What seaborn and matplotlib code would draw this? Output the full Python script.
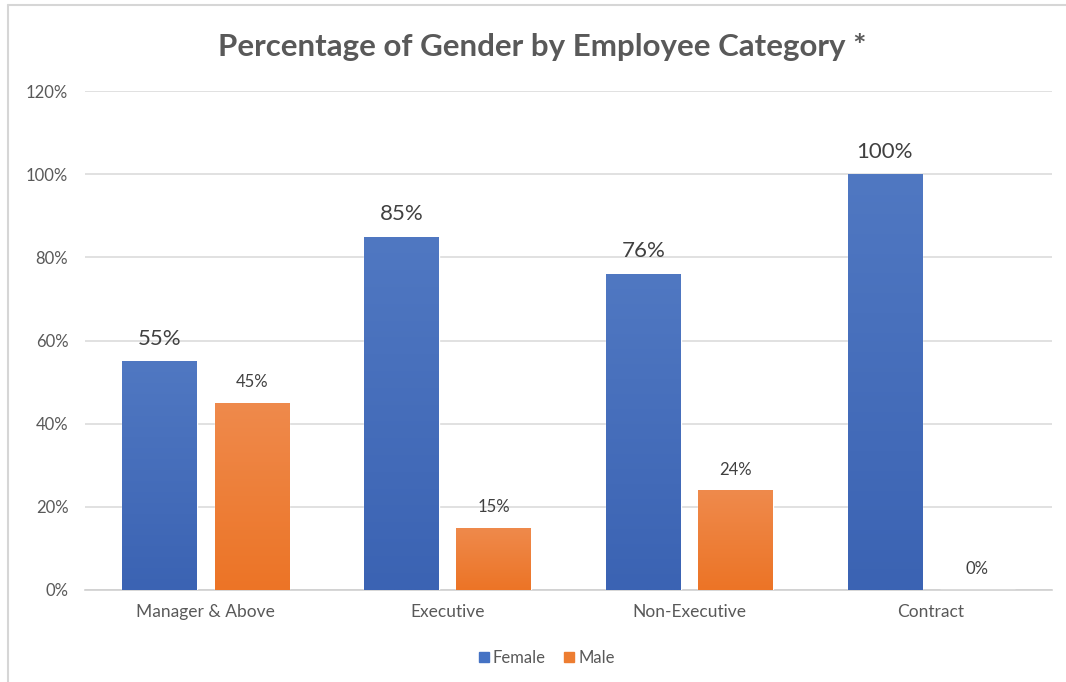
import numpy as np
import pandas as pd
import matplotlib
matplotlib.use("Agg")
import matplotlib.pyplot as plt
from matplotlib.lines import Line2D
from matplotlib.colors import LinearSegmentedColormap
import seaborn as sns

categories = ["Manager & Above", "Executive", "Non-Executive", "Contract"]
genders = ["Female", "Male"]
female_pct = [55, 85, 76, 100]
male_pct = [45, 15, 24, 0]
y_ticks = [0, 20, 40, 60, 80, 100, 120]

df = pd.DataFrame({
    "Category": categories * 2,
    "Gender": ["Female"] * len(categories) + ["Male"] * len(categories),
    "Percent": female_pct + male_pct,
})

base_colors = {"Female": "#4472C4", "Male": "#ED7D31"}
# light-at-top to darker-at-bottom fills, per series
gradients = {
    "Female": ("#5078c2", "#3b63b3"),
    "Male": ("#ef8a4c", "#ec7426"),
}

sns.set_theme(style="white")
plt.rcParams["font.family"] = ["Lato", "DejaVu Sans"]

W, H = 1066, 682
fig = plt.figure(figsize=(W / 100, H / 100), dpi=100)
ax = fig.add_axes([85 / W, 92 / H, 967 / W, 499 / H])

sns.barplot(data=df, x="Category", y="Percent", hue="Gender",
            order=categories, hue_order=genders, palette=base_colors,
            width=0.764, gap=0.19, ax=ax, legend=False, zorder=3,
            errorbar=None)

# gradient fill clipped to each bar
grad = np.linspace(1, 0, 256).reshape(-1, 1)
for container, g in zip(ax.containers, genders):
    top, bottom = gradients[g]
    cmap = LinearSegmentedColormap.from_list(g, [bottom, top])
    for patch in container:
        h = patch.get_height()
        if h <= 0:
            continue
        x0 = patch.get_x()
        w = patch.get_width()
        im = ax.imshow(grad, cmap=cmap, vmin=0, vmax=1, aspect="auto",
                       extent=[x0, x0 + w, 0, h], zorder=3.5,
                       interpolation="bilinear")
        im.set_clip_path(patch)

# value labels
label_style = {"Female": 16, "Male": 12}
for container, g in zip(ax.containers, genders):
    vals = female_pct if g == "Female" else male_pct
    ax.bar_label(container, labels=[f"{v}%" for v in vals], padding=9,
                 fontsize=label_style[g], color="#404040", zorder=5)

ax.set_xlim(-0.5, len(categories) - 0.5)
ax.set_ylim(0, 120)
ax.set_yticks(y_ticks)
ax.set_yticklabels([f"{v}%" for v in y_ticks])
ax.set_xlabel("")
ax.set_ylabel("")
ax.yaxis.grid(True, color="#dcdcdc", linewidth=1.2, zorder=0)
ax.set_axisbelow(True)
for s in ["top", "right", "left"]:
    ax.spines[s].set_visible(False)
ax.spines["bottom"].set_color("#d0d0d0")
ax.spines["bottom"].set_linewidth(1.2)
ax.tick_params(axis="y", length=0, pad=12, labelsize=12, labelcolor="#595959")
ax.tick_params(axis="x", length=0, pad=10, labelsize=12.5, labelcolor="#595959")

fig.text(542 / W, 1 - 47 / H, "Percentage of Gender by Employee Category *",
         ha="center", va="center", fontsize=22.5, fontweight="bold",
         color="#595959")

handles = [Line2D([0], [0], marker="s", linestyle="none", markersize=7.5,
                  markerfacecolor=base_colors[g], markeredgecolor=base_colors[g],
                  label=g) for g in genders]
fig.legend(handles=handles, loc="center", bbox_to_anchor=(545 / W, 1 - 658 / H),
           ncol=2, frameon=False, fontsize=12, handletextpad=0.05,
           columnspacing=0.9, labelcolor="#595959", handlelength=1.0)

# chart frame edges
fig.add_artist(Line2D([8 / W, 1], [1 - 5 / H, 1 - 5 / H], color="#d6d6d6",
                      linewidth=1.5, transform=fig.transFigure))
fig.add_artist(Line2D([8 / W, 8 / W], [0, 1 - 5 / H], color="#d6d6d6",
                      linewidth=1.5, transform=fig.transFigure))

fig.savefig("out.png", dpi=100, facecolor="white")
